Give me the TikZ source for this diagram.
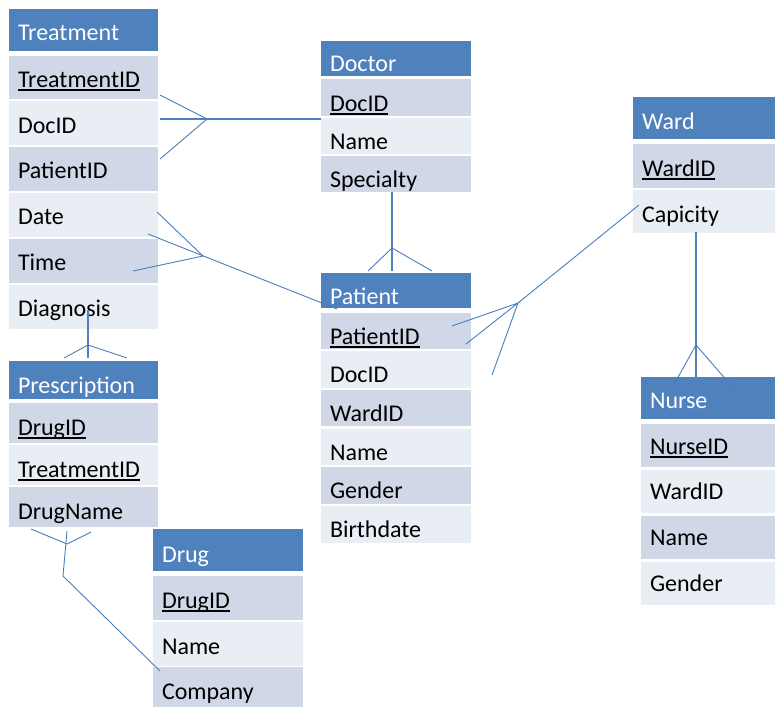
\documentclass[tikz,border=0pt]{standalone}
\usepackage{fontspec}
\setmainfont{Carlito}
\usepackage{tikz}

\definecolor{hdblue}{HTML}{4F81BD}
\definecolor{rowdark}{HTML}{D0D8E8}
\definecolor{rowlight}{HTML}{E9EDF4}
\definecolor{linkblue}{HTML}{4A7EBB}

\newcommand\keyattr[1]{\setbox0\hbox{#1}\rlap{\rule[-3.5pt]{\wd0}{1.8pt}}\box0}

\tikzset{
  cell/.style={anchor=north west, inner xsep=9pt, inner ysep=0pt, outer sep=0pt, align=left, font=\fontsize{24}{28}\selectfont},
  hd/.style={cell, fill=hdblue, text=white},
  dk/.style={cell, fill=rowdark},
  lt/.style={cell, fill=rowlight},
  link/.style={draw=linkblue, line width=0.9pt},
  boldlink/.style={draw=hdblue, line width=2pt},
}

\begin{document}
\begin{tikzpicture}[x=1pt, y=-1pt]
            \useasboundingbox (0,0) rectangle (775,706);

            %Treatment
            \begin{scope}[every node/.append style={text width=131pt, text height=31.5pt, text depth=12pt}]
            \node[hd, text height=32pt, text depth=10pt] (treat) at (9,9) {Treatment};
            \node[dk] (tid) at (9,56) {\keyattr{TreatmentID}};
            \node[lt] (tdoc) at (9,101.5) {DocID};
            \node[dk] (tpat) at (9,147.3) {PatientID};
            \node[lt] (tdate) at (9,193.1) {Date};
            \node[dk] (ttime) at (9,239) {Time};
            \node[lt] (tdiag) at (9,285) {Diagnosis};
            \end{scope}

            %Doctor
            \begin{scope}[every node/.append style={text width=132pt, text height=31.5pt, text depth=4.5pt}]
            \node[hd, text height=31pt, text depth=4pt] (doc) at (321,41) {Doctor};
            \node[dk] (did) at (321,79.5) {\keyattr{DocID}};
            \node[lt] (dname) at (321,117.5) {Name};
            \node[dk] (dspec) at (321,156) {Specialty};
            \end{scope}

            %Patient
            \begin{scope}[every node/.append style={text width=132pt, text height=31.5pt, text depth=5pt}]
            \node[hd, text height=31pt, text depth=4pt] (pat) at (321,273) {Patient};
            \node[dk] (pid) at (321,312.5) {\keyattr{PatientID}};
            \node[lt] (pdoc) at (321,351) {DocID};
            \node[dk] (pward) at (321,389.5) {WardID};
            \node[lt] (pname) at (321,428.5) {Name};
            \node[dk] (pgender) at (321,467) {Gender};
            \node[lt] (pbirth) at (321,506) {Birthdate};
            \end{scope}

            %Ward
            \begin{scope}[every node/.append style={text width=124pt, text height=32.5pt, text depth=11pt}]
            \node[hd, text height=32pt, text depth=10pt] (ward) at (633,97) {Ward};
            \node[dk] (wid) at (633,144) {\keyattr{WardID}};
            \node[lt] (wcap) at (633,189.5) {Capicity};
            \end{scope}

            %Nurse
            \begin{scope}[every node/.append style={text width=116pt, text height=30pt, text depth=13pt}]
            \node[hd, text height=31pt, text depth=11pt] (nurse) at (641,377) {Nurse};
            \node[dk] (nid) at (641,424) {\keyattr{NurseID}};
            \node[lt] (nward) at (641,469.5) {WardID};
            \node[dk] (nname) at (641,515.5) {Name};
            \node[lt] (ngender) at (641,561.5) {Gender};
            \end{scope}

            %Prescription
            \begin{scope}[every node/.append style={text width=131pt, text height=32pt, text depth=8pt}]
            \node[hd, text height=32pt, text depth=6pt] (presc) at (9,361) {Prescription};
            \node[dk] (prdrug) at (9,403) {\keyattr{DrugID}};
            \node[lt] (prtreat) at (9,445) {\keyattr{TreatmentID}};
            \node[dk] (prname) at (9,487) {DrugName};
            \end{scope}

            %Drug
            \begin{scope}[every node/.append style={text width=132pt, text height=32.5pt, text depth=11.5pt}]
            \node[hd, text height=33pt, text depth=9pt] (drug) at (153,529) {Drug};
            \node[dk] (drid) at (153,576) {\keyattr{DrugID}};
            \node[lt] (drname) at (153,621.5) {Name};
            \node[dk] (drcomp) at (153,667) {Company};
            \end{scope}

            %crow's foot points
            \coordinate (tdfoot) at (207,119);
            \coordinate (tdtipa) at (160,95);
            \coordinate (tdtipb) at (160,159);
            \coordinate (tdend) at (160,119);
            \coordinate (dtend) at (321,119);

            \coordinate (tpfoot) at (203,256);
            \coordinate (tptipa) at (157,212);
            \coordinate (tptipb) at (133,271);
            \coordinate (tpend) at (148,234);
            \coordinate (pthead) at (337,309);

            \coordinate (dptop) at (392,192);
            \coordinate (dpfoot) at (392,248);
            \coordinate (dpend) at (392,271);
            \coordinate (dptipa) at (368,271);
            \coordinate (dptipb) at (432,271);

            \coordinate (pwfoot) at (518,303);
            \coordinate (pwtipa) at (452,326);
            \coordinate (pwtipb) at (466,344);
            \coordinate (pwtipc) at (492,375);
            \coordinate (wpend) at (639,205);

            \coordinate (wntop) at (696,232);
            \coordinate (wnfoot) at (696,345);
            \coordinate (wnend) at (696,390);
            \coordinate (wntipa) at (672,388);
            \coordinate (wntipb) at (735,390);

            \coordinate (tstop) at (88,310);
            \coordinate (tsfoot) at (88,345);
            \coordinate (tsend) at (88,358);
            \coordinate (tstipa) at (64,358);
            \coordinate (tstipb) at (127,358);

            \coordinate (sdfoot) at (67,544);
            \coordinate (sdtipa) at (31,529);
            \coordinate (sdtipb) at (91,532);
            \coordinate (sdtop) at (67,531);
            \coordinate (sdbend) at (63,576);
            \coordinate (dsend) at (160,671);

            %edges
            \draw[boldlink] (tdend) -- (dtend);
            \draw[link] (tdtipa) -- (tdfoot) -- (tdtipb);

            \draw[link] (tpend) -- (pthead);
            \draw[link] (tptipa) -- (tpfoot) -- (tptipb);

            \draw[boldlink] (dptop) -- (dpend);
            \draw[link] (dptipa) -- (dpfoot) -- (dptipb);

            \draw[link] (wpend) -- (pwfoot);
            \draw[link] (pwtipa) -- (pwfoot) -- (pwtipb);
            \draw[link] (pwfoot) -- (pwtipc);

            \draw[boldlink] (wntop) -- (wnend);
            \draw[link] (wntipa) -- (wnfoot) -- (wntipb);

            \draw[boldlink] (tstop) -- (tsend);
            \draw[link] (tstipa) -- (tsfoot) -- (tstipb);

            \draw[link] (sdtipa) -- (sdfoot) -- (sdtipb);
            \draw[link] (sdtop) -- (sdbend) -- (dsend);
        \end{tikzpicture}
\end{document}
